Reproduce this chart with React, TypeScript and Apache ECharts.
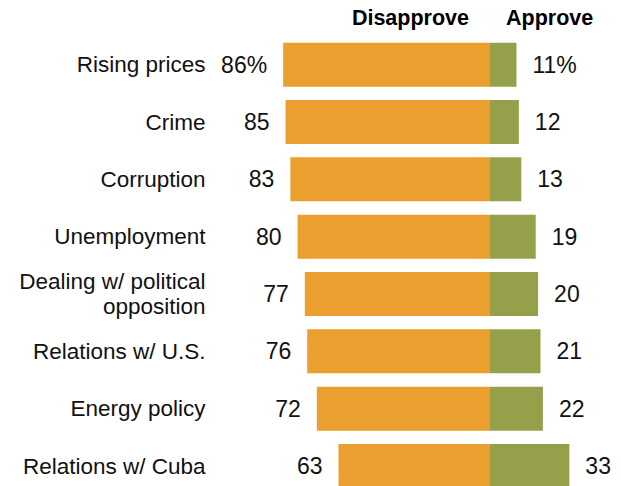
import React, { useEffect, useRef } from "react";
import * as echarts from "echarts";

const categories = [
  "Rising prices",
  "Crime",
  "Corruption",
  "Unemployment",
  "Dealing w/ political\nopposition",
  "Relations w/ U.S.",
  "Energy policy",
  "Relations w/ Cuba",
];
const disapprove = [86, 85, 83, 80, 77, 76, 72, 63];
const approve = [11, 12, 13, 19, 20, 21, 22, 33];
const headers = ["Disapprove", "Approve"];

const FONT = "'Liberation Sans', Arial, sans-serif";

export default function App() {
  const ref = useRef<HTMLDivElement>(null);
  useEffect(() => {
    if (!ref.current) return;
    const chart = echarts.init(ref.current, null, { renderer: "svg" });
    const fmt = (p: any) => {
      const v = Math.abs(p.value);
      return p.dataIndex === 0 ? `${v}%` : `${v}`;
    };
    chart.setOption({
      animation: false,
      backgroundColor: "#ffffff",
      grid: {
        left: 249.5,
        width: 360.75,
        top: 36,
        height: 458.67,
        outerBoundsMode: "none",
        containLabel: false,
      },
      xAxis: {
        type: "value",
        min: -100,
        max: 50,
        show: false,
      },
      yAxis: {
        type: "category",
        data: categories,
        inverse: true,
        axisLine: { show: false },
        axisTick: { show: false },
        axisLabel: {
          margin: 44,
          fontSize: 22.5,
          lineHeight: 25,
          color: "#111",
          fontFamily: FONT,
          align: "right",
        },
      },
      series: [
        {
          name: headers[0],
          type: "bar",
          stack: "s",
          barWidth: 44,
          data: disapprove.map((v) => -v),
          itemStyle: { color: "#EA9F2E" },
          label: {
            show: true,
            position: "left",
            distance: 16,
            formatter: fmt,
            fontSize: 23,
            color: "#111",
            fontFamily: FONT,
          },
        },
        {
          name: headers[1],
          type: "bar",
          stack: "s",
          barWidth: 44,
          data: approve,
          itemStyle: { color: "#969F4A" },
          label: {
            show: true,
            position: "right",
            distance: 16,
            formatter: fmt,
            fontSize: 23,
            color: "#111",
            fontFamily: FONT,
          },
        },
      ],
      graphic: [
        {
          type: "text",
          x: 469,
          y: 18,
          style: {
            text: headers[0],
            align: "right",
            verticalAlign: "middle",
            font: `bold 21.5px ${FONT}`,
            fill: "#000",
          },
        },
        {
          type: "text",
          x: 506,
          y: 18,
          style: {
            text: headers[1],
            align: "left",
            verticalAlign: "middle",
            font: `bold 21.5px ${FONT}`,
            fill: "#000",
          },
        },
      ],
    });
    return () => chart.dispose();
  }, []);
  return (
    <div
      ref={ref}
      style={{ position: "fixed", left: 0, top: 0, width: 621, height: 486 }}
    />
  );
}
